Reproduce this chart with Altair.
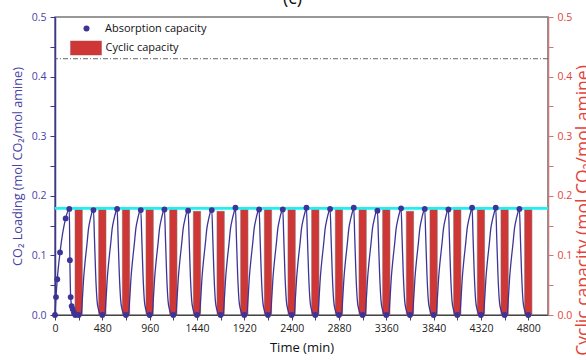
import altair as alt
import pandas as pd

# ---------------- data ----------------
# first absorption / desorption run (every sample drawn as a symbol)
first_time = [0, 10, 23, 51, 108, 145, 151, 159, 169, 179, 192, 206]
first_load = [0.000, 0.030, 0.060, 0.105, 0.162, 0.178, 0.092, 0.030, 0.015, 0.010, 0.004, 0.000]

# later cycles: start time of each cycle and its peak loading
cycle_start = [240, 480, 720, 960, 1200, 1440, 1680, 1920, 2160, 2400,
               2640, 2880, 3120, 3360, 3600, 3840, 4080, 4320, 4560]
cycle_peak = [0.176, 0.178, 0.176, 0.177, 0.175, 0.176, 0.180, 0.177, 0.177, 0.180,
              0.178, 0.180, 0.175, 0.179, 0.178, 0.177, 0.180, 0.180, 0.178]
# shape of one later cycle (minutes after cycle start, loading)
shape_offset = [25, 38, 52, 65, 85, 100, 117, 135, 150, 160, 172, 186, 200, 214, 228]
shape_load = [0.000, 0.028, 0.065, 0.089, 0.120, 0.145, 0.160, 0.172, None,
              0.130, 0.070, 0.025, 0.010, 0.003, 0.000]
end_time = 4800

# cyclic capacity bars
bar_time = [240, 480, 720, 960, 1200, 1440, 1680, 1920, 2160, 2400,
            2640, 2880, 3120, 3360, 3600, 3840, 4080, 4320, 4560, 4800]
bar_cap = [0.177, 0.177, 0.177, 0.177, 0.177, 0.174, 0.174, 0.177, 0.177, 0.177,
           0.177, 0.177, 0.177, 0.177, 0.174, 0.177, 0.177, 0.177, 0.177, 0.177]

ref_cyan = [0.179]
ref_dashdot = [0.43]

x_tick_values = list(range(0, 4801, 240))
y_tick_values = [round(i * 0.05, 2) for i in range(11)]

# ---------------- tables ----------------
rows = []
for t, v in zip(first_time, first_load):
    rows.append({"time": t, "load": v, "marker": True})
for s, p in zip(cycle_start, cycle_peak):
    rows.append({"time": s, "load": 0.0, "marker": True})
    for o, v in zip(shape_offset, shape_load):
        if v is None:
            rows.append({"time": s + o, "load": p, "marker": True})
        else:
            rows.append({"time": s + o, "load": v, "marker": False})
rows.append({"time": end_time, "load": 0.0, "marker": True})
line_df = pd.DataFrame(rows)
line_df["series"] = "Absorption capacity"

bar_df = pd.DataFrame({"time": bar_time, "cap": bar_cap, "series": "Cyclic capacity"})
cyan_df = pd.DataFrame({"load": ref_cyan})
dash_df = pd.DataFrame({"load": ref_dashdot})

# ---------------- style ----------------
FONT = "Open Sans"
PURPLE = "#3c3597"
LPURPLE = "#4a42a6"
RED = "#cf3636"
RRED = "#e3433b"

xscale = alt.Scale(domain=[0, 5000], nice=False, zero=False)
yscale = alt.Scale(domain=[0, 0.5], nice=False)

x_axis = alt.Axis(
    values=x_tick_values,
    labelExpr="datum.value % 480 == 0 ? format(datum.value, 'd') : ''",
    title="Time (min)", titleFontSize=13, titleFontWeight="normal", titleColor="#111",
    labelFontSize=10.5, labelColor="#222", domainColor="#444", tickColor="#444",
    tickSize=5, labelPadding=3, titlePadding=8, grid=False, labelFlush=False,
)
y_label_expr = "abs(datum.value*10 - round(datum.value*10)) < 0.001 ? format(datum.value, '.1f') : ''"
left_axis = alt.Axis(
    orient="left", values=y_tick_values, labelExpr=y_label_expr,
    title="CO₂ Loading (mol CO₂/mol amine)", titleFontSize=12.7, titleFontWeight="normal",
    titleColor=LPURPLE, labelColor=LPURPLE, labelFontSize=10.5,
    domainColor=PURPLE, domainWidth=1.5, tickColor=PURPLE, tickSize=5,
    labelPadding=4, titlePadding=7, grid=False,
)
right_axis = alt.Axis(
    orient="right", values=y_tick_values, labelExpr=y_label_expr,
    title="Cyclic capacity (mol CO₂/mol amine)", titleFontSize=17.5, titleFontWeight="normal",
    titleColor=RRED, labelColor=RRED, labelFontSize=10.5, titleAngle=270, titleBaseline="top",
    titleY=193,
    domainColor="#c47a7a", domainWidth=1.5, tickColor="#c47a7a", tickSize=5,
    labelPadding=4, titlePadding=3, grid=False,
)

X = alt.X("time:Q", scale=xscale, axis=x_axis)
YL = alt.Y("load:Q", scale=yscale, axis=left_axis)

line = alt.Chart(line_df).mark_line(color=PURPLE, strokeWidth=1.3, interpolate="monotone").encode(
    x=X, y=YL
)
points = alt.Chart(line_df).transform_filter("datum.marker").mark_point(
    filled=True, size=34, opacity=1
).encode(
    x=X, y=YL,
    color=alt.Color("series:N", scale=alt.Scale(domain=["Absorption capacity"], range=[PURPLE]),
                    legend=alt.Legend(title=None, orient="none", legendX=26, legendY=6,
                                      symbolType="circle", symbolSize=36, symbolStrokeWidth=0,
                                      labelFont=FONT, labelFontSize=11, labelColor="#111",
                                      labelOffset=13, padding=0)),
)
cyan = alt.Chart(cyan_df).mark_rule(color="#1ff0f2", strokeWidth=2.8).encode(y=YL)
dashdot = alt.Chart(dash_df).mark_rule(color="#555", strokeWidth=0.9, strokeDash=[5, 2, 1, 2]).encode(y=YL)

left = alt.layer(cyan, dashdot, line, points)

bars = alt.Chart(bar_df).transform_calculate(
    t0="datum.time - 37", t1="datum.time + 37"
).mark_bar(stroke="#8f6464", strokeWidth=0.6, opacity=1).encode(
    x=alt.X("t0:Q", scale=xscale, axis=x_axis),
    x2="t1:Q",
    y=alt.Y("cap:Q", scale=yscale, axis=right_axis),
    y2=alt.datum(0),
    fill=alt.Fill("series:N", scale=alt.Scale(domain=["Cyclic capacity"], range=[RED]),
                  legend=alt.Legend(title=None, orient="none", legendX=15, legendY=15,
                                    symbolType="M-1,-0.45L1,-0.45L1,0.45L-1,0.45Z",
                                    symbolSize=961, symbolStrokeColor="#b04a4a",
                                    symbolStrokeWidth=0.5, labelFont=FONT, labelFontSize=11,
                                    labelColor="#111", labelOffset=3.5, padding=0)),
)

chart = alt.layer(bars, left).resolve_scale(y="independent").properties(
    width=493, height=298,
    autosize=alt.AutoSizeParams(type="none"),
    padding={"left": 55, "top": 17, "right": 38, "bottom": 45},
    title=alt.TitleParams("(c)", font=FONT, fontSize=18, fontWeight="normal", color="#111",
                          offset=4, dx=-9),
).configure_view(stroke="#777", strokeWidth=1.6).configure_axis(
    labelFont=FONT, titleFont=FONT
)

chart.save("out.html", embed_options={"renderer": "svg", "actions": False})
